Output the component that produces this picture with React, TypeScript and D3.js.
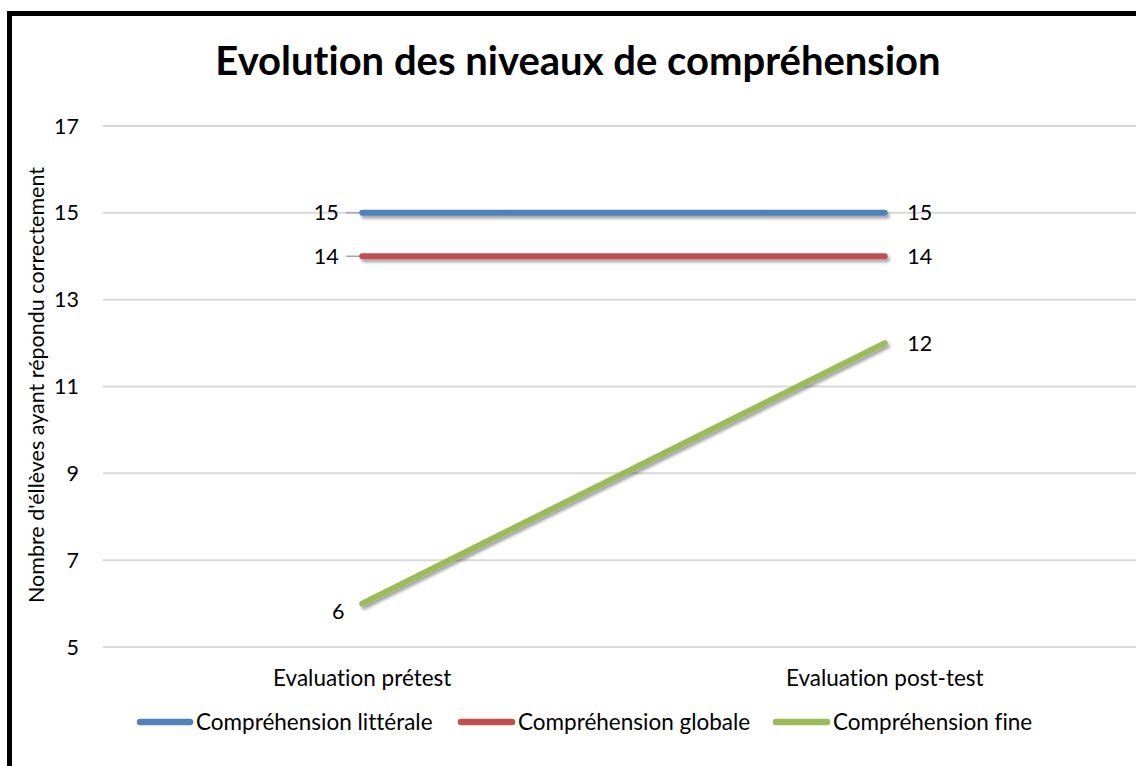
import * as d3 from 'd3';

const categories = ['Evaluation prétest', 'Evaluation post-test'];
const seriesNames = ['Compréhension littérale', 'Compréhension globale', 'Compréhension fine'];
const litterale = [15, 15];
const globale = [14, 14];
const fine = [6, 12];
const yTicks = [5, 7, 9, 11, 13, 15, 17];

const COLORS = ['#4F81BD', '#C0504D', '#9BBB59'];
const FONT = 'Lato, "Open Sans", sans-serif';
const FS = 21.5;
const FS_BIG = 22.5;

const W = 1136;
const H = 766;
const M = { left: 101, right: -10, top: 126, bottom: 119 };

export default function App() {
  const series = [litterale, globale, fine];

  const x = d3.scaleBand<string>()
    .domain(categories)
    .range([M.left, W - M.right]);
  const cx = (c: string) => (x(c) ?? 0) + x.bandwidth() / 2;

  const y = d3.scaleLinear()
    .domain([5, 17])
    .range([H - M.bottom, M.top]);

  const line = d3.line<number>()
    .x((_, i) => cx(categories[i]))
    .y(d => y(d));

  const legendItems = [
    { x: 137, w: 56 },
    { x: 458, w: 57 },
    { x: 773, w: 57 },
  ];

  return (
    <svg
      width={W}
      height={H}
      style={{ position: 'absolute', left: 0, top: 0, fontVariantLigatures: 'none' }}
    >
      <defs>
        <filter id="shadow" filterUnits="userSpaceOnUse" x={0} y={0} width={W} height={H}>
          <feDropShadow dx={2} dy={3} stdDeviation={1.6} floodColor="#000" floodOpacity={0.35} />
        </filter>
      </defs>
      <rect x={0} y={0} width={W} height={H} fill="#fff" />
      {/* outer frame, cut off at the right and bottom */}
      <rect x={9.5} y={13.5} width={W + 20} height={H + 20} fill="none" stroke="#000" strokeWidth={5} />

      <text x={578} y={75} textAnchor="middle" fontFamily={FONT} fontWeight={700} fontSize={40} fill="#000">
        Evolution des niveaux de compréhension
      </text>

      {yTicks.map(t => (
        <g key={t}>
          <line x1={M.left + 2} x2={W} y1={y(t)} y2={y(t)} stroke="#d9d9d9" strokeWidth={2} />
          <text x={79} y={y(t)} dy="0.35em" textAnchor="end" fontFamily={FONT} fontSize={FS} fill="#000">
            {t}
          </text>
        </g>
      ))}

      <text
        transform={`translate(36,${385}) rotate(-90)`}
        dy="0.35em"
        textAnchor="middle"
        fontFamily={FONT}
        fontSize={FS}
        fill="#000"
      >
        Nombre d'éllèves ayant répondu correctement
      </text>

      {categories.map(c => (
        <text key={c} x={cx(c)} y={678} dy="0.35em" textAnchor="middle" fontFamily={FONT} fontSize={FS_BIG} fill="#000">
          {c}
        </text>
      ))}

      {/* leader lines for the left labels */}
      <line x1={346} x2={cx(categories[0])} y1={y(14)} y2={y(14)} stroke="#a6a6a6" strokeWidth={1.5} />
      <line x1={346} x2={cx(categories[0])} y1={y(15)} y2={y(15)} stroke="#a6a6a6" strokeWidth={1.5} />

      {series.map((s, i) => (
        <path
          key={seriesNames[i]}
          d={line(s) ?? ''}
          fill="none"
          stroke={COLORS[i]}
          strokeWidth={6}
          strokeLinecap="round"
          filter="url(#shadow)"
        />
      ))}

      {series.map((s, i) =>
        s.map((v, j) => {
          const px = cx(categories[j]);
          const isLow = i === 2 && j === 0;
          return (
            <text
              key={`${i}-${j}`}
              x={isLow ? px - 24 : j === 0 ? px - 36 : px + 35}
              y={isLow ? y(v) + 8 : y(v)}
              dy="0.35em"
              textAnchor="middle"
              fontFamily={FONT}
              fontSize={FS}
              fill="#000"
            >
              {v}
            </text>
          );
        })
      )}

      {seriesNames.map((n, i) => (
        <g key={n}>
          <line
            x1={legendItems[i].x + 3}
            x2={legendItems[i].x + legendItems[i].w - 3}
            y1={722}
            y2={722}
            stroke={COLORS[i]}
            strokeWidth={6.5}
            strokeLinecap="round"
          />
          <text x={legendItems[i].x + legendItems[i].w + 3} y={722} dy="0.35em" fontFamily={FONT} fontSize={FS_BIG} fill="#000">
            {n}
          </text>
        </g>
      ))}
    </svg>
  );
}
